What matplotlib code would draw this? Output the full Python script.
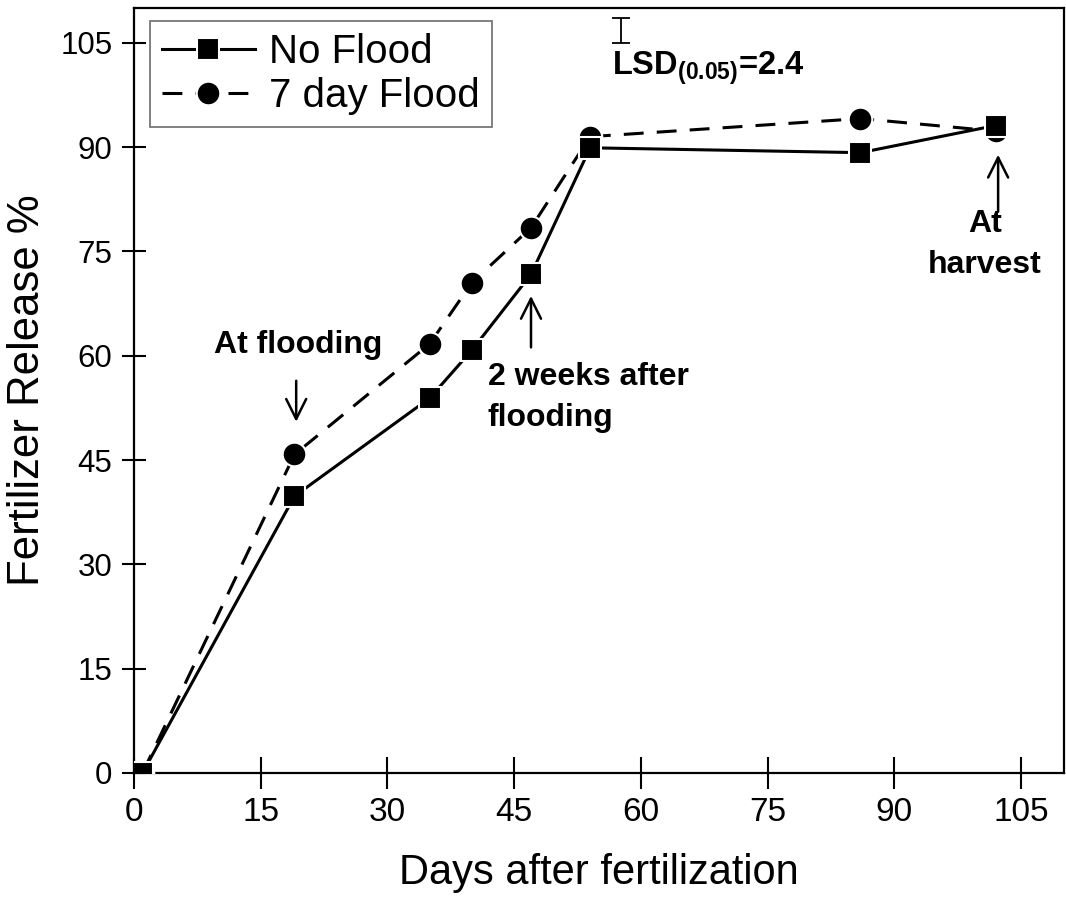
import matplotlib
matplotlib.use("Agg")
import matplotlib.pyplot as plt

# data
days = [1, 19, 35, 40, 47, 54, 86, 102]
no_flood = [0, 39.8, 53.9, 60.8, 71.7, 89.9, 89.2, 93.1]
flood_7day = [0, 45.8, 61.7, 70.5, 78.4, 91.5, 94.1, 92.3]
ticks = [0, 15, 30, 45, 60, 75, 90, 105]
lsd = 2.4

plt.rcParams['font.family'] = ['Liberation Sans', 'DejaVu Sans']
plt.rcParams['mathtext.fontset'] = 'custom'
plt.rcParams['mathtext.rm'] = 'Liberation Sans'
plt.rcParams['mathtext.bf'] = 'Liberation Sans:bold'

fig = plt.figure(figsize=(10.66, 8.99), dpi=100)
ax = fig.add_axes([134/1066, 1-773/899, 930/1066, 765/899])

ax.plot(days, flood_7day, color='black', lw=2.2, dashes=(6.5, 4.3),
        marker='o', ms=17, mfc='black', mec='white', mew=1.5,
        label='7 day Flood', zorder=3)
ax.plot(days, no_flood, color='black', lw=2.2, ls='-',
        marker='s', ms=16, mfc='black', mec='white', mew=1.5,
        label='No Flood', zorder=4)

ax.set_xlim(0, 110.1)
ax.set_ylim(0, 110.0)
ax.set_xticks(ticks)
ax.set_yticks(ticks)
ax.tick_params(axis='x', direction='inout', length=23, width=1.5, pad=6,
               labelsize=24)
ax.tick_params(axis='y', direction='inout', length=17, width=1.5, pad=7,
               labelsize=22.5)
for sp in ax.spines.values():
    sp.set_linewidth(1.6)

ax.set_xlabel('Days after fertilization', fontsize=30, labelpad=18)
ax.set_ylabel('Fertilizer Release %', fontsize=31.5, labelpad=9)

# legend with No Flood first
h, l = ax.get_legend_handles_labels()
leg = ax.legend(h[::-1], l[::-1], loc='upper left', bbox_to_anchor=(0.0172, 0.983),
                borderaxespad=0, fontsize=29, frameon=True, fancybox=False,
                edgecolor='#555555', handlelength=2.3, handletextpad=0.35,
                borderpad=0.3, labelspacing=0.15, numpoints=1)
leg.get_frame().set_linewidth(1.3)

arrow = dict(arrowstyle='->', color='black', lw=1.8, mutation_scale=36)
ax.annotate('', xy=(19.2, 50.1), xytext=(19.2, 56.8), arrowprops=arrow)
ax.text(19.4, 61.6, 'At flooding', fontsize=23, fontweight='bold',
        ha='center', va='center')

ax.annotate('', xy=(47, 69.0), xytext=(47, 60.8), arrowprops=arrow)
ax.text(41.9, 54.0, '2 weeks after\nflooding', fontsize=23, fontweight='bold',
        ha='left', va='center', linespacing=1.5)

ax.annotate('', xy=(102.3, 89.3), xytext=(102.3, 80.3), arrowprops=arrow)
ax.text(100.7, 76.0, 'At\nharvest', fontsize=23, fontweight='bold',
        ha='center', va='center', linespacing=1.5)

# LSD bar
ax.errorbar([57.6], [106.7], yerr=[lsd * 0.75], fmt='none', ecolor='black',
            elinewidth=1.3, capsize=6.5, capthick=1.3, clip_on=False)
ax.text(56.6, 100.5, r'LSD$_{\mathbf{(0.05)}}$=2.4', fontsize=23.5,
        fontweight='bold', ha='left', va='baseline')

fig.savefig('out.png', dpi=100)
